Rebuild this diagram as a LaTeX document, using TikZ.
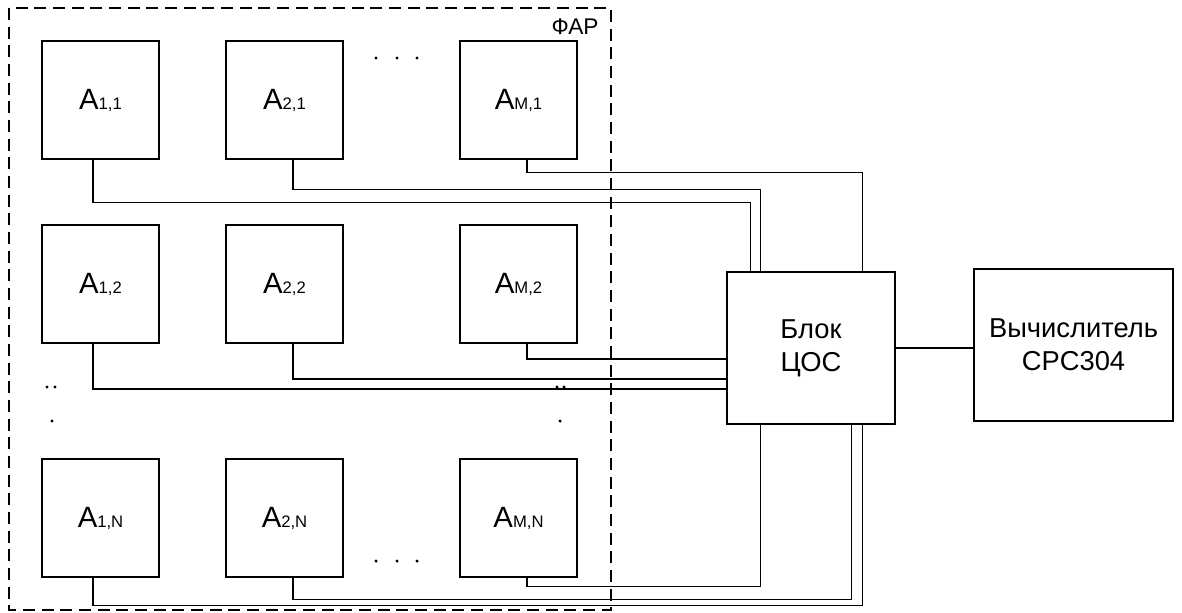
\documentclass[tikz,border=0pt]{standalone}
\usepackage{fontspec}
\setmainfont{Liberation Sans}

\begin{document}
\begin{tikzpicture}[x=0.75pt,y=-0.75pt,line width=1pt,
  ant/.style={draw,minimum width=87.75pt,minimum height=88.5pt,inner sep=0pt,
    font=\fontsize{22}{22}\selectfont},
  blk/.style={draw,minimum height=114pt,inner sep=0pt,align=center,
    font=\fontsize{20.5}{24.75}\selectfont},
  farbox/.style={dash pattern=on 9pt off 5pt}]
  \useasboundingbox (0,0) rectangle (1182,612);

  % antenna array
  \foreach \c/\cx in {1/100.5,2/284.5,M/518.5}{
    \foreach \r/\ry in {1/100,2/284,N/518}{
      \node[ant] (a\c\r) at (\cx,\ry) {A{\fontsize{12.5}{12.5}\selectfont\c,\r}};
    }
  }
  \draw[farbox] (9,8) rectangle (611,610);
  \node[font=\fontsize{17}{17}\selectfont] (far) at (575,27) {ФАР};

  \foreach \p in {(376,58),(397,58),(417,58),(376,561),(397,561),(417,561),
                  (47,387),(55,387),(52,421),(557,387),(564,387),(560,421)}
    \fill \p circle (1.3pt);

  \node[blk,minimum width=126pt] (dsp) at (811,348) {Блок\\ЦОС};
  \node[blk,minimum width=149.25pt] (cpu) at (1073.5,345) {Вычислитель\\CPC304};
  \draw (dsp.east) -- (dsp.east -| cpu.west);

  % row 1
  \draw ([xshift=-5.6pt]a11.south) -- ++(0,43) -| ([xshift=18pt]dsp.north west);
  \draw ([xshift=6.4pt]a21.south) -- ++(0,30) -| ([xshift=25.5pt]dsp.north west);
  \draw ([xshift=6.4pt]aM1.south) -- ++(0,13) -| ([xshift=-24.75pt]dsp.north east);
  % row 2
  \draw ([xshift=-5.6pt]a12.south) |- ([yshift=-30.75pt]dsp.west);
  \draw ([xshift=6.4pt]a22.south) |- ([yshift=-23.25pt]dsp.west);
  \draw ([xshift=6.4pt]aM2.south) |- ([yshift=-8.25pt]dsp.west);
  % row N
  \draw ([xshift=-5.6pt]a1N.south) -- ++(0,28) -| ([xshift=-24.75pt]dsp.south east);
  \draw ([xshift=6.4pt]a2N.south) -- ++(0,22) -| ([xshift=-33pt]dsp.south east);
  \draw ([xshift=6.4pt]aMN.south) -- ++(0,9) -| ([xshift=25.5pt]dsp.south west);

\end{tikzpicture}
\end{document}
